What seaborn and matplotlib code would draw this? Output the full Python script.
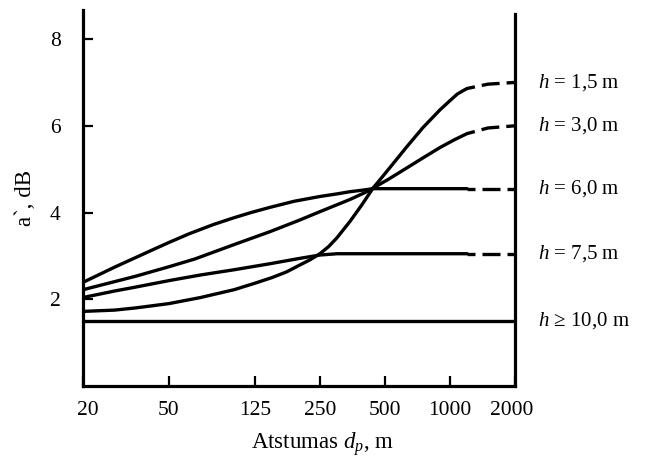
import matplotlib
matplotlib.use("Agg")
import matplotlib.pyplot as plt
import matplotlib.transforms as mtransforms
from matplotlib.ticker import NullLocator, FixedLocator, FixedFormatter
import pandas as pd
import seaborn as sns

# ---------------- data ----------------
distance_ticks = [20, 50, 125, 250, 500, 1000, 2000]
distance_tick_labels = ["20", "50", "125", "250", "500", "1000", "2000"]
y_ticks = [2, 4, 6, 8]
dash_from = 1200  # curves are solid up to this distance, dashed beyond

series_labels = ["$h$ = 1,5 m", "$h$ = 3,0 m", "$h$ = 6,0 m", "$h$ = 7,5 m", "$h$ ≥ 10,0 m"]

d_h15 = [20, 28, 35, 50, 70, 100, 125, 150, 175, 200, 225, 250, 275, 300, 345, 390, 440,
         520, 632, 750, 900, 1000, 1080, 1150, 1200, 1500, 2000]
a_h15 = [1.72, 1.75, 1.80, 1.90, 2.04, 2.22, 2.37, 2.50, 2.63, 2.78, 2.91, 3.05, 3.22, 3.42, 3.80, 4.17, 4.56,
         5.00, 5.52, 5.96, 6.37, 6.58, 6.73, 6.81, 6.86, 6.96, 7.0]

d_h30 = [20, 35, 50, 66, 100, 147, 200, 250, 300, 344, 400, 440, 520, 632, 750, 900, 1050, 1200, 1500, 2000]
a_h30 = [2.22, 2.53, 2.75, 2.93, 3.26, 3.56, 3.82, 4.02, 4.18, 4.30, 4.45, 4.56, 4.77, 5.03, 5.26, 5.50, 5.68,
         5.82, 5.95, 6.0]

d_h60 = [20, 28, 35, 42, 50, 62, 80, 100, 120, 147, 190, 250, 300, 344, 400, 440, 1200, 2000]
a_h60 = [2.39, 2.74, 2.96, 3.14, 3.31, 3.51, 3.72, 3.88, 4.00, 4.12, 4.26, 4.37, 4.43, 4.48, 4.52, 4.55, 4.55, 4.55]

d_h75 = [20, 28, 35, 50, 70, 100, 147, 200, 250, 300, 1200, 2000]
a_h75 = [2.04, 2.19, 2.28, 2.43, 2.56, 2.68, 2.82, 2.94, 3.02, 3.05, 3.05, 3.05]

d_h10 = [20, 2000]
a_h10 = [1.5, 1.5]

dashed_tail = [True, True, True, True, False]

# ---------------- style ----------------
sns.set_theme(style="ticks")
plt.rcParams["font.family"] = ["Liberation Serif", "DejaVu Serif"]
plt.rcParams["mathtext.fontset"] = "custom"
plt.rcParams["mathtext.rm"] = "Liberation Serif"
plt.rcParams["mathtext.it"] = "Liberation Serif:italic"
plt.rcParams["mathtext.bf"] = "Liberation Serif:bold"

W, H = 647, 459
fig = plt.figure(figsize=(W / 100, H / 100), dpi=100)
ax = fig.add_axes([83 / W, 1 - 386 / H, (515 - 83) / W, (386 - 10) / H])

LW = 2.4
all_d = [d_h15, d_h30, d_h60, d_h75, d_h10]
all_a = [a_h15, a_h30, a_h60, a_h75, a_h10]

for d, a, dashed in zip(all_d, all_a, dashed_tail):
    df = pd.DataFrame({"d": d, "a": a})
    if dashed:
        solid = df[df["d"] <= dash_from]
        tail = df[df["d"] >= dash_from]
        sns.lineplot(data=solid, x="d", y="a", ax=ax, color="black", lw=LW,
                     estimator=None, sort=False, solid_joinstyle="round")
        sns.lineplot(data=tail, x="d", y="a", ax=ax, color="black", lw=LW,
                     estimator=None, sort=False, linestyle=(3.0, (5.4, 2.1)))
    else:
        sns.lineplot(data=df, x="d", y="a", ax=ax, color="black", lw=LW,
                     estimator=None, sort=False)

ax.set_xscale("log")
ax.set_xlim(20, 2000)
ax.set_ylim(0, 8.67)
ax.xaxis.set_major_locator(FixedLocator(distance_ticks))
ax.xaxis.set_major_formatter(FixedFormatter(distance_tick_labels))
ax.xaxis.set_minor_locator(NullLocator())
ax.set_yticks(y_ticks)
ax.set_yticklabels([str(v) for v in y_ticks])

ax.tick_params(axis="both", direction="in", length=7, width=1.6, colors="black",
               labelsize=15.5)
ax.tick_params(axis="y", pad=16)
ax.tick_params(axis="x", pad=11)

# small offsets for end labels as in reference
xl = ax.get_xticklabels()
xl[0].set_transform(xl[0].get_transform() + mtransforms.ScaledTranslation(5 / 100, 0, fig.dpi_scale_trans))
xl[-1].set_transform(xl[-1].get_transform() + mtransforms.ScaledTranslation(-3 / 100, 0, fig.dpi_scale_trans))

for side in ["left", "bottom", "right"]:
    ax.spines[side].set_linewidth(2.3)
    ax.spines[side].set_color("black")
ax.spines["top"].set_visible(False)
ax.spines["right"].set_bounds(0, 8.58)

ax.set_xlabel("Atstumas $d_p$, m", fontsize=16.5, va="baseline", color="black")
ax.xaxis.set_label_coords((322 - 83) / 432, (386 - 449) / 376)
ax.set_ylabel("a`, dB", fontsize=16.5, va="center", ha="center", color="black")
ax.yaxis.set_label_coords((26 - 83) / 432, 0.5)

trans = mtransforms.blended_transform_factory(ax.transAxes, ax.transData)
for lab, a in zip(series_labels, all_a):
    ax.text((538 - 83) / 432, a[-1], lab, transform=trans, ha="left", va="center",
            fontsize=15, color="black")

ax.set_facecolor("white")
fig.patch.set_facecolor("white")
fig.savefig("out.png", dpi=100, facecolor="white")
